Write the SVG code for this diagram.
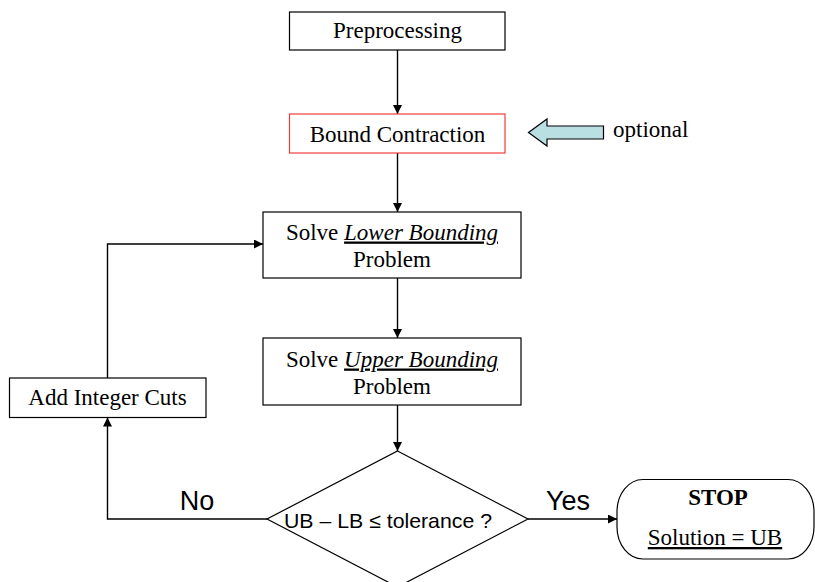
<svg xmlns="http://www.w3.org/2000/svg" width="815" height="582" viewBox="0 0 815 582">
  <style>
    .box { fill: #ffffff; stroke: #000000; stroke-width: 1.2; }
    .red { stroke: #f03c3c; }
    .serif { font-family: "Liberation Serif", "Times New Roman", serif; font-size: 23px; fill: #000; }
    .sans { font-family: "Liberation Sans", Arial, sans-serif; fill: #000; }
    .conn { fill: none; stroke: #000; stroke-width: 1.4; }
    .u { text-decoration: underline; }
  </style>
  <defs>
    <marker id="ah" viewBox="0 0 10 10" refX="10" refY="5" markerWidth="9" markerHeight="9" markerUnits="userSpaceOnUse" orient="auto">
      <path d="M0,0 L10,5 L0,10 z" fill="#000"/>
    </marker>
  </defs>

  <rect width="815" height="582" fill="#ffffff"/>

  <!-- connectors -->
  <g id="connectors">
    <line class="conn" x1="397.5" y1="50" x2="397.5" y2="114" marker-end="url(#ah)"/>
    <line class="conn" x1="397.5" y1="153" x2="397.5" y2="212" marker-end="url(#ah)"/>
    <line class="conn" x1="397.5" y1="278" x2="397.5" y2="338" marker-end="url(#ah)"/>
    <line class="conn" x1="397.5" y1="405" x2="397.5" y2="451" marker-end="url(#ah)"/>
    <!-- loop back: Add Integer Cuts to lower bounding -->
    <polyline class="conn" points="107.5,378 107.5,244 263,244" marker-end="url(#ah)"/>
    <!-- No branch -->
    <polyline class="conn" points="267,519 107.5,519 107.5,417.5" marker-end="url(#ah)"/>
    <!-- Yes branch -->
    <line class="conn" x1="528" y1="519" x2="617" y2="519" marker-end="url(#ah)"/>
    <text class="sans" x="197" y="510" font-size="27" text-anchor="middle">No</text>
    <text class="sans" x="568" y="510" font-size="27" text-anchor="middle">Yes</text>
  </g>

  <g id="preprocessing">
    <rect class="box" x="289.5" y="12" width="215.5" height="38"/>
    <text class="serif" x="397.5" y="38" text-anchor="middle">Preprocessing</text>
  </g>

  <g id="bound-contraction">
    <rect class="box red" x="289.5" y="114" width="215.5" height="39"/>
    <text class="serif" x="397.5" y="141.5" text-anchor="middle">Bound Contraction</text>
  </g>

  <g id="optional-note">
    <polygon points="528.5,132.5 547,119 547,126 603.5,126 603.5,139 547,139 547,146" fill="#b9dfe3" stroke="#000" stroke-width="1.2"/>
    <text class="serif" x="613" y="137">optional</text>
  </g>

  <g id="lower-bounding">
    <rect class="box" x="263" y="212" width="258" height="66"/>
    <text class="serif" x="392" y="239.5" text-anchor="middle">Solve <tspan class="u" font-style="italic">Lower Bounding</tspan></text>
    <text class="serif" x="392" y="267" text-anchor="middle">Problem</text>
  </g>

  <g id="upper-bounding">
    <rect class="box" x="263" y="338" width="258" height="67"/>
    <text class="serif" x="392" y="366.5" text-anchor="middle">Solve <tspan class="u" font-style="italic">Upper Bounding</tspan></text>
    <text class="serif" x="392" y="393.5" text-anchor="middle">Problem</text>
  </g>

  <g id="integer-cuts">
    <rect class="box" x="9.5" y="378" width="196.5" height="39.5"/>
    <text class="serif" x="107.5" y="405" text-anchor="middle">Add Integer Cuts</text>
  </g>

  <g id="tolerance-check">
    <polygon class="box" points="397.5,451 528,519 397.5,587 267,519"/>
    <text class="sans" x="284" y="527.5" font-size="21" textLength="208" lengthAdjust="spacingAndGlyphs">UB – LB ≤ tolerance ?</text>
  </g>

  <g id="stop">
    <rect class="box" x="617" y="479.5" width="197" height="79.5" rx="26" ry="32"/>
    <text class="serif" x="718" y="505" text-anchor="middle" font-weight="bold">STOP</text>
    <text class="serif u" x="715" y="545" text-anchor="middle">Solution = UB</text>
  </g>
</svg>
